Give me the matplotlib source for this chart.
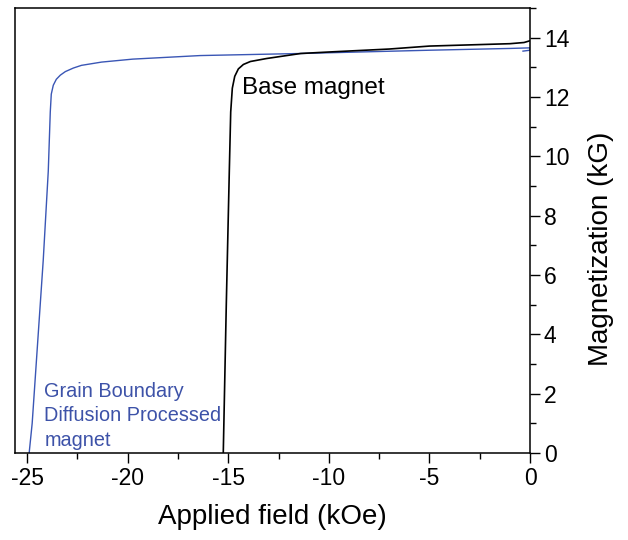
import matplotlib
matplotlib.use('Agg')
import matplotlib.pyplot as plt
from matplotlib.ticker import MultipleLocator

plt.rcParams['font.family'] = ['Liberation Sans', 'DejaVu Sans']
plt.rcParams['axes.unicode_minus'] = False

# Demagnetization curves (second quadrant), field in kOe, magnetization in kG
field_gbd = [-24.9, -24.75, -24.5, -24.2, -23.95, -23.85, -23.8, -23.7, -23.55,
             -23.35, -23.1, -22.7, -22.3, -21.3, -19.75, -16.4, -11.4, -5.0, -1.0,
             0.0, 0.0, -0.35]
mag_gbd = [0.0, 1.0, 3.5, 6.5, 9.5, 11.5, 12.1, 12.4, 12.6,
           12.74, 12.86, 12.98, 13.07, 13.18, 13.28, 13.40, 13.47, 13.58, 13.64,
           13.66, 13.58, 13.55]

field_base = [-15.25, -15.1, -14.95, -14.88, -14.8, -14.68, -14.5, -14.25, -13.9,
              -13.1, -11.4, -10.0, -7.0, -5.0, -2.0, -1.0, -0.3, 0.0]
mag_base = [0.0, 5.0, 9.5, 11.5, 12.3, 12.7, 12.95, 13.1, 13.2,
            13.3, 13.47, 13.52, 13.62, 13.72, 13.78, 13.8, 13.84, 13.9]

x_ticks = [-25, -20, -15, -10, -5, 0]
y_ticks = [0, 2, 4, 6, 8, 10, 12, 14]

fig = plt.figure(figsize=(6.28, 5.4), dpi=100)
ax = fig.add_axes([0.024, 0.161, 0.82, 0.824])

ax.plot(field_gbd, mag_gbd, color='#3a56b5', lw=1.0)
ax.plot(field_base, mag_base, color='black', lw=1.2)

ax.text(-14.3, 12.3, 'Base magnet', fontsize=17.5, va='center', ha='left')
ax.text(-24.15, 0.1, 'Grain Boundary\nDiffusion Processed\nmagnet',
        fontsize=14.3, color='#3d52a8', va='bottom', ha='left', linespacing=1.38)

ax.set_xlim(-25.6, 0)
ax.set_ylim(0, 15)
ax.set_xticks(x_ticks)
ax.set_yticks(y_ticks)
ax.xaxis.set_minor_locator(MultipleLocator(2.5))
ax.yaxis.set_minor_locator(MultipleLocator(1))

ax.yaxis.tick_right()
ax.yaxis.set_label_position('right')
ax.tick_params(which='major', direction='out', length=7, width=1.0, labelsize=16.5, pad=3)
ax.tick_params(which='minor', direction='out', length=4, width=1.0)
for sp in ax.spines.values():
    sp.set_linewidth(1.1)

ax.set_xlabel('Applied field (kOe)', fontsize=20, labelpad=10)
ax.set_ylabel('Magnetization (kG)', fontsize=20)
ax.yaxis.set_label_coords(1.113, 0.458)

fig.savefig('out.png', dpi=100)
